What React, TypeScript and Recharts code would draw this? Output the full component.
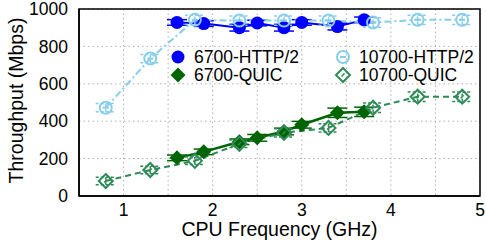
import React from 'react';
import { LineChart, Line, XAxis, YAxis, CartesianGrid, ErrorBar, Legend, ReferenceArea } from 'recharts';

// CPU frequencies (GHz)
const freq6700 = [1.6, 1.9, 2.3, 2.5, 2.8, 3.0, 3.4, 3.7];
const freq10700 = [0.8, 1.3, 1.8, 2.3, 2.8, 3.3, 3.8, 4.3, 4.8];

// Throughput (Mbps)
const http6700 = [928, 922, 900, 925, 900, 928, 906, 942];
const quic6700 = [204, 236, 290, 311, 345, 381, 445, 450];
const http10700 = [472, 735, 942, 938, 938, 938, 928, 942, 942];
const quic10700 = [80, 139, 188, 279, 338, 364, 472, 531, 531];

// error bars (Mbps)
const errHttp6700 = [15, 15, 18, 15, 18, 15, 18, 15];
const errQuic6700 = [15, 15, 15, 18, 18, 18, 25, 25];
const errHttp10700 = [22, 22, 25, 25, 25, 25, 25, 25, 25];
const errQuic10700 = [20, 20, 20, 20, 22, 22, 25, 25, 25];

const xTicks = [0.5, 1, 1.5, 2, 2.5, 3, 3.5, 4, 4.5, 5];
const yTicks = [0, 200, 400, 600, 800, 1000];

const C_BLUE = '#0000ff';
const C_SKY = '#87ceeb';
const C_DGREEN = '#006400';
const C_SEA = '#2e8b57';

const FONT = '"Liberation Sans", Arial, Helvetica, sans-serif';

const build = (xs: number[], ys: number[], es: number[]) => xs.map((x, i) => ({ x, y: ys[i], e: es[i] }));

const d6700Http = build(freq6700, http6700, errHttp6700);
const d6700Quic = build(freq6700, quic6700, errQuic6700);
const d10700Http = build(freq10700, http10700, errHttp10700);
const d10700Quic = build(freq10700, quic10700, errQuic10700);

const FilledCircle = ({ cx, cy }: any) => <circle cx={cx} cy={cy} r={6.5} fill={C_BLUE} />;
const OpenCircle = ({ cx, cy }: any) => (
  <g>
    <circle cx={cx} cy={cy} r={6} fill="none" stroke={C_SKY} strokeWidth={2} />
    <line x1={cx - 3} x2={cx + 3} y1={cy} y2={cy} stroke={C_SKY} strokeWidth={2} />
  </g>
);
const FilledDiamond = ({ cx, cy }: any) => (
  <polygon points={`${cx},${cy - 7.5} ${cx + 7.5},${cy} ${cx},${cy + 7.5} ${cx - 7.5},${cy}`} fill={C_DGREEN} />
);
const OpenDiamond = ({ cx, cy }: any) => (
  <g>
    <polygon points={`${cx},${cy - 7} ${cx + 7},${cy} ${cx},${cy + 7} ${cx - 7},${cy}`} fill="none" stroke={C_SEA} strokeWidth={2} />
    <line x1={cx - 1.5} x2={cx + 1.5} y1={cy + 1.5} y2={cy - 1.5} stroke={C_SEA} strokeWidth={1.5} />
  </g>
);

const legendItems = [
  { name: '6700-HTTP/2', Icon: FilledCircle },
  { name: '10700-HTTP/2', Icon: OpenCircle },
  { name: '6700-QUIC', Icon: FilledDiamond },
  { name: '10700-QUIC', Icon: OpenDiamond },
];

const LegendContent = () => (
  <div style={{ display: 'grid', gridTemplateColumns: '165px 150px', rowGap: 0, fontFamily: FONT, fontSize: 17.5 }}>
    {legendItems.map(({ name, Icon }) => (
      <div key={name} style={{ display: 'flex', alignItems: 'center', height: 18 }}>
        <svg width={16} height={18} style={{ marginRight: 8, overflow: 'visible' }}>
          <Icon cx={8} cy={9} />
        </svg>
        <span style={{ lineHeight: '18px', color: '#000' }}>{name}</span>
      </div>
    ))}
  </div>
);

const mkDot = (Comp: any) => (p: any) => <Comp key={`${p.index}-${p.cx}`} cx={p.cx} cy={p.cy} />;

export default function App() {
  return (
    <div style={{ position: 'absolute', left: 0, top: 0, width: 486, height: 245, background: '#fff' }}>
      <LineChart width={486} height={245} margin={{ top: 9, right: 6, bottom: 0, left: 0 }}>
        <CartesianGrid stroke="#b0b0b0" strokeDasharray="1.5 3" strokeWidth={1} />
        <XAxis
          type="number"
          dataKey="x"
          domain={[0.5, 5]}
          ticks={xTicks}
          interval={0}
          allowDataOverflow
          height={49}
          tickLine={false}
          axisLine={{ stroke: '#000', strokeWidth: 1.5 }}
          tickSize={0}
          tickMargin={8}
          tickFormatter={(v: number) => (Number.isInteger(v) && v >= 1 ? String(v) : '')}
          tick={{ fill: '#000', fontSize: 17.5, fontFamily: FONT }}
          label={{ value: 'CPU Frequency (GHz)', position: 'insideBottom', offset: 9, fill: '#000', fontSize: 19.5, fontFamily: FONT }}
        />
        <YAxis
          type="number"
          domain={[0, 1000]}
          ticks={yTicks}
          interval={0}
          width={79}
          tickLine={false}
          axisLine={{ stroke: '#000', strokeWidth: 1.5 }}
          tickSize={0}
          tickMargin={11}
          tick={{ fill: '#000', fontSize: 17.5, fontFamily: FONT }}
          label={{
            content: ({ viewBox }: any) => {
              const cx = viewBox.x + 16;
              const cy = viewBox.y + viewBox.height / 2 - 2;
              return (
                <text x={cx} y={cy} transform={`rotate(-90 ${cx} ${cy})`} textAnchor="middle" dominantBaseline="central" fontSize={19.5} fontFamily={FONT} fill="#000">
                  Throughput (Mbps)
                </text>
              );
            },
          }}
        />
        <ReferenceArea x1={0.5} x2={5} y1={0} y2={1000} fill="none" stroke="#000" strokeWidth={1.5} ifOverflow="visible" />
        <Legend layout="horizontal" verticalAlign="middle" align="center" content={LegendContent} wrapperStyle={{ left: 170, top: 48, width: 320 }} />
        <Line data={d6700Http} dataKey="y" name="6700-HTTP/2" stroke={C_BLUE} strokeWidth={2} dot={mkDot(FilledCircle)} isAnimationActive={false} activeDot={false}>
          <ErrorBar dataKey="e" direction="y" width={10} stroke={C_BLUE} strokeWidth={1.5} />
        </Line>
        <Line data={d6700Quic} dataKey="y" name="6700-QUIC" stroke={C_DGREEN} strokeWidth={2.5} dot={mkDot(FilledDiamond)} isAnimationActive={false} activeDot={false}>
          <ErrorBar dataKey="e" direction="y" width={10} stroke={C_DGREEN} strokeWidth={1.5} />
        </Line>
        <Line data={d10700Http} dataKey="y" name="10700-HTTP/2" stroke={C_SKY} strokeWidth={2} strokeDasharray="7 3 2 3" dot={mkDot(OpenCircle)} isAnimationActive={false} activeDot={false}>
          <ErrorBar dataKey="e" direction="y" width={10} stroke={C_SKY} strokeWidth={1.5} strokeDasharray="3 2" />
        </Line>
        <Line data={d10700Quic} dataKey="y" name="10700-QUIC" stroke={C_SEA} strokeWidth={2} strokeDasharray="6 4" dot={mkDot(OpenDiamond)} isAnimationActive={false} activeDot={false}>
          <ErrorBar dataKey="e" direction="y" width={10} stroke={C_SEA} strokeWidth={1.5} strokeDasharray="3 2" />
        </Line>
      </LineChart>
    </div>
  );
}
